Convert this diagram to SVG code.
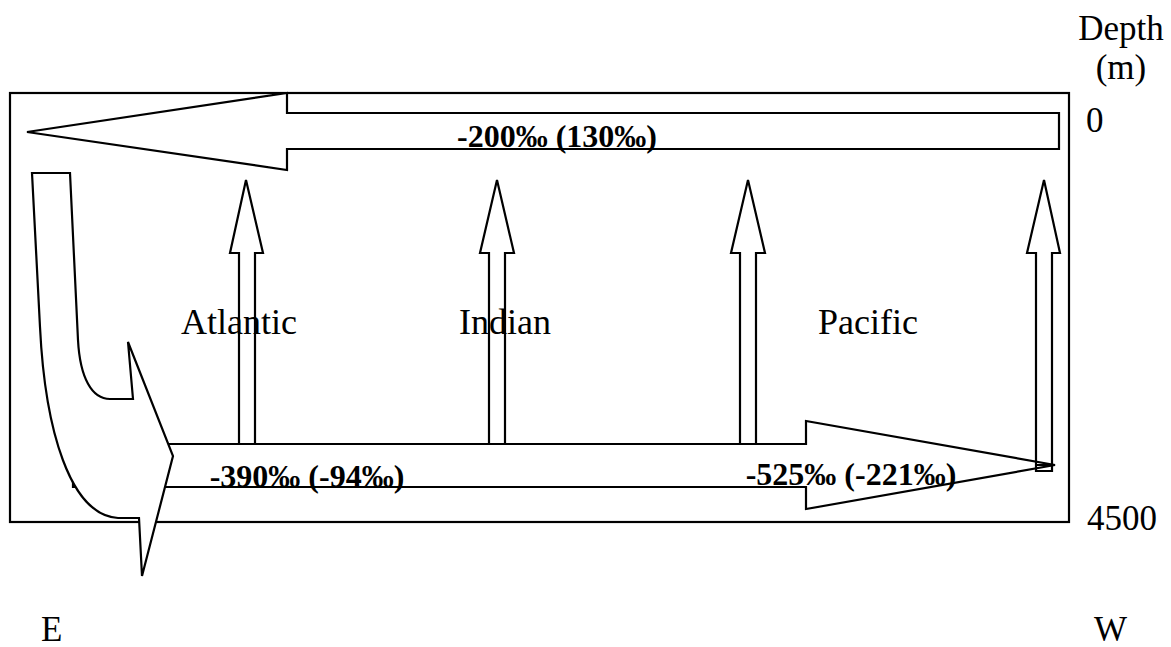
<svg xmlns="http://www.w3.org/2000/svg" width="1171" height="647" viewBox="0 0 1171 647">
<style>
.ln{fill:#fff;stroke:#000;stroke-width:2.2;stroke-linejoin:miter}
.open{fill:none;stroke:#000;stroke-width:2.2}
.lab{font-family:"Liberation Serif","Times New Roman",serif;font-size:36px;fill:#000}
.ax{font-family:"Liberation Serif","Times New Roman",serif;font-size:35px;fill:#000}
.val{font-family:"Liberation Serif","Times New Roman",serif;font-size:32px;font-weight:bold;fill:#000}
</style>
<rect width="1171" height="647" fill="#fff"/>
<g id="frame">
<rect x="10" y="93" width="1059" height="429" class="open"/>
</g>
<g id="connectors">
<polygon id="surface-flow" class="ln" points="27,132 287,93 287,113 1059,113 1059,149 287,149 287,170"/>
<polygon id="up-atlantic" class="ln" points="246,180 263,253 255,253 255,445 239,445 239,253 230,253"/>
<polygon id="up-indian" class="ln" points="497,180 514,253 505,253 505,445 489,445 489,253 480,253"/>
<polygon id="up-pacific" class="ln" points="748,180 765,253 756,253 756,445 740,445 740,253 731,253"/>
<polygon id="deep-flow" class="ln" points="73,444 806,444 806,421 1055,465 806,509 806,487 73,487"/>
<polygon id="up-east" class="open" points="1044,180 1060,253 1052,253 1052,471 1036,471 1036,253 1027,253"/>
<line x1="1036" y1="465" x2="1052" y2="465" stroke="#000" stroke-width="2"/>
<path id="sinking-flow" class="ln" d="M32,173 L70,173 L78,340 C80,378 92,399 110,399 L133,399 L128,342 L173,456 L142,576 L139,518 L118,518 C70,515 45,430 40,327 Z"/>
</g>
<g id="labels">
<text class="val" x="557" y="147" text-anchor="middle">-200‰ (130‰)</text>
<text class="val" x="307" y="487" text-anchor="middle">-390‰ (-94‰)</text>
<text class="val" x="851" y="485" text-anchor="middle">-525‰ (-221‰)</text>
<text class="lab" x="181" y="334">Atlantic</text>
<text class="lab" x="459" y="334">Indian</text>
<text class="lab" x="818" y="334">Pacific</text>
<text class="ax" x="1121" y="40" text-anchor="middle">Depth</text>
<text class="ax" x="1121" y="79" text-anchor="middle">(m)</text>
<text class="ax" x="1086" y="132">0</text>
<text class="ax" x="1087" y="530" font-size="33">4500</text>
<text class="ax" x="41" y="641">E</text>
<text class="ax" x="1094" y="641">W</text>
</g>
</svg>
